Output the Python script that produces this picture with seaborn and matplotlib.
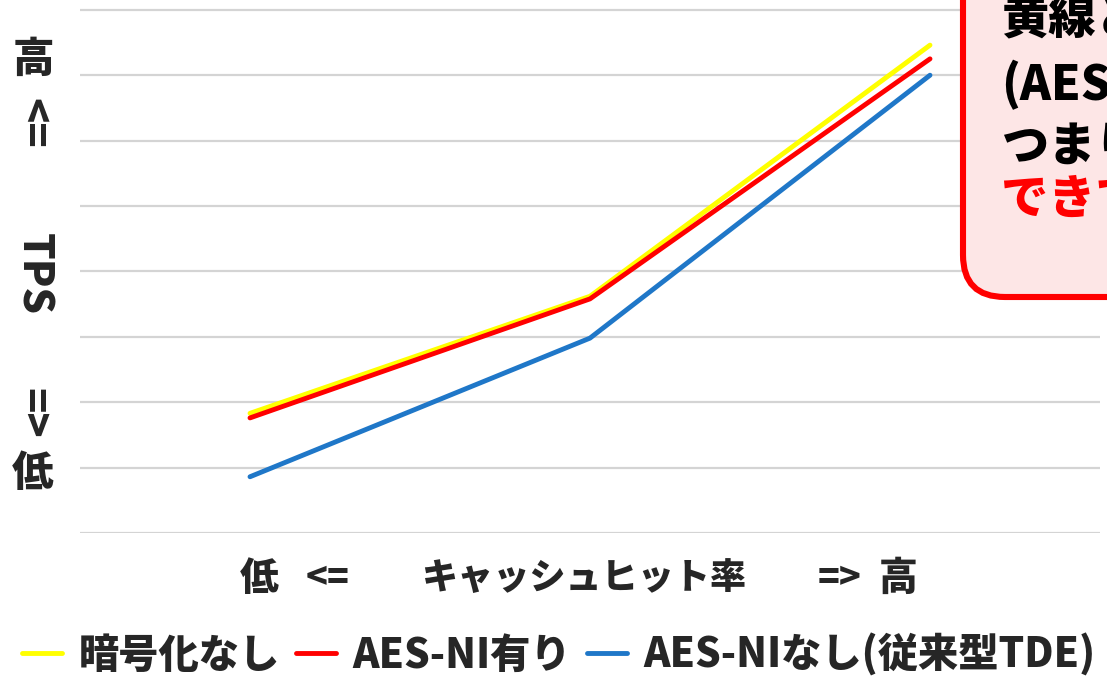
import matplotlib
matplotlib.use("Agg")
import matplotlib.pyplot as plt
from matplotlib.patches import FancyBboxPatch
from matplotlib.transforms import IdentityTransform
import numpy as np
import pandas as pd
import seaborn as sns

# Cache-hit level (low -> high) and relative TPS per configuration
hit_levels = [0, 1, 2]
series_names = ["暗号化なし", "AES-NI有り", "AES-NIなし(従来型TDE)"]
tps_plain = [1.83, 3.62, 7.46]
tps_aesni = [1.76, 3.58, 7.25]
tps_legacy = [0.86, 2.98, 7.00]
series_colors = ["#ffff00", "#ff0000", "#1f77c8"]

note_lines = ["黄線と赤線はほぼ同じ", "(AES-NI有りの暗号化)", "つまり性能劣化を抑えることが", "できている"]
note_colors = ["black", "black", "black", "#ff0000"]

df = pd.DataFrame({
    "hit": hit_levels * 3,
    "tps": tps_plain + tps_aesni + tps_legacy,
    "series": np.repeat(series_names, len(hit_levels)),
})

sns.set_theme(style="white")
plt.rcParams["font.family"] = ["Noto Sans CJK JP", "DejaVu Sans"]
plt.rcParams["font.weight"] = "heavy"
WT = "heavy"

W, H = 1107, 680
fig = plt.figure(figsize=(W / 100, H / 100), dpi=100)
ax = fig.add_axes([80 / W, (H - 533) / H, (1100 - 80) / W, 533 / H])

sns.lineplot(data=df, x="hit", y="tps", hue="series", hue_order=series_names,
             palette=series_colors, linewidth=3.5, ax=ax, legend=False,
             solid_capstyle="round", zorder=3)

ax.set_xlim(-0.5, 2.5)
ax.set_ylim(0, 8.15)
ax.set_yticks(np.arange(0, 9))
ax.set_xticks([])
ax.set_yticklabels([])
ax.tick_params(left=False, bottom=False)
ax.grid(axis="y", color="#d4d4d4", linewidth=1.6)
ax.set_axisbelow(True)
ax.set_xlabel("")
ax.set_ylabel("")
for s in ax.spines.values():
    s.set_visible(False)


def px(x, y):
    return x / W, 1 - y / H


# vertical axis caption
fs_y = 30
fig.text(*px(33, 60), "高", fontsize=fs_y, fontweight=WT, ha="center", va="center")
fig.text(*px(33, 123), "<=", fontsize=fs_y, fontweight=WT, ha="center", va="center", rotation=-90)
fig.text(*px(33, 274), "TPS", fontsize=fs_y, fontweight=WT, ha="center", va="center", rotation=-90)
fig.text(*px(33, 413), "=>", fontsize=fs_y, fontweight=WT, ha="center", va="center", rotation=-90)
fig.text(*px(33, 474), "低", fontsize=fs_y, fontweight=WT, ha="center", va="center")

# horizontal axis caption
fs_x = 26
yx = 578
fig.text(*px(259, yx), "低", fontsize=fs_x + 2, fontweight=WT, ha="center", va="center")
fig.text(*px(328, yx), "<=", fontsize=fs_x, fontweight=WT, ha="center", va="center")
fig.text(*px(584, yx), "キャッシュヒット率", fontsize=fs_x, fontweight=WT, ha="center", va="center")
fig.text(*px(840, yx), "=>", fontsize=fs_x, fontweight=WT, ha="center", va="center")
fig.text(*px(898, yx), "高", fontsize=fs_x + 2, fontweight=WT, ha="center", va="center")

# legend along the bottom
handles = [plt.Line2D([], [], color=c, linewidth=3.5) for c in series_colors]
fig.legend(handles, series_names, loc="center left", bbox_to_anchor=px(22, 655),
           ncol=3, frameon=False, handlelength=1.0,
           handletextpad=0.4, columnspacing=0.4, borderpad=0, borderaxespad=0,
           prop={"weight": WT, "size": 29})

# callout box at the top right
box = FancyBboxPatch((963, H - 297), 400, 400,
                     boxstyle="round,pad=0,rounding_size=42",
                     transform=IdentityTransform(), facecolor="#fde6e6",
                     edgecolor="#ff0000", linewidth=4.4, zorder=5, clip_on=False)
fig.patches.append(box)
note_y = [20, 85, 147, 200]
for txt, col, yy in zip(note_lines, note_colors, note_y):
    fig.text(*px(1001, yy), txt, fontsize=34, fontweight=WT, color=col,
             ha="left", va="center", zorder=6)

fig.savefig("out.png", dpi=100)
